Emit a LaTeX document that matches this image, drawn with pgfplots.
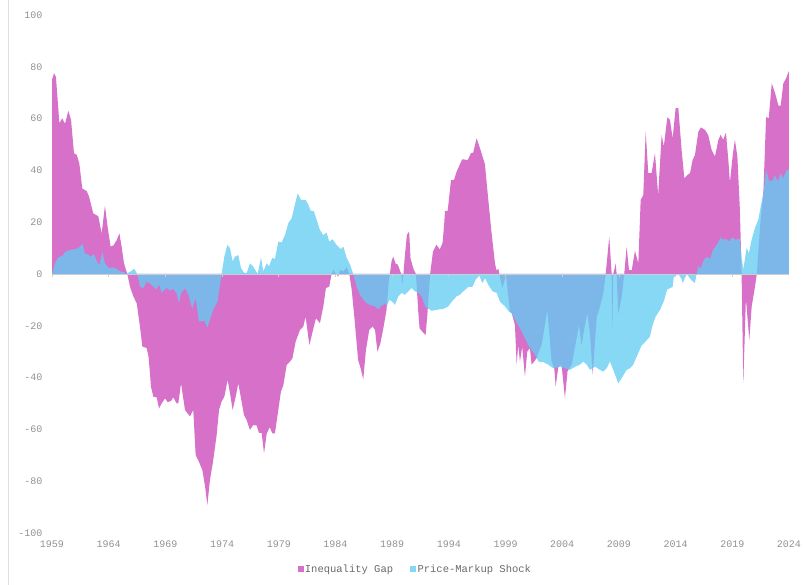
\documentclass[border=0pt]{standalone}
\usepackage{fontspec}
\setmainfont{Liberation Mono}
\usepackage{pgfplots}
\pgfplotsset{compat=1.18}
\definecolor{ineq}{RGB}{214,112,200}
\definecolor{pms}{RGB}{99,204,242}
\definecolor{tickgray}{RGB}{145,145,145}
\definecolor{leggray}{RGB}{105,105,105}
\definecolor{zerogray}{RGB}{205,205,205}
\begin{document}
\begin{tikzpicture}[x=1pt,y=1pt]
\path[use as bounding box] (0,0) rectangle (804,585);
\draw[black!12, line width=0.8pt] (8,0) -- (8,585);
\begin{axis}[
  at={(52pt,52pt)}, anchor=south west, scale only axis,
  width=737pt, height=518pt,
  xmin=1959, xmax=2024, ymin=-100, ymax=100,
  axis line style={draw=none},
  major tick length=0pt,
  xtick={1959,1964,...,2024}, ytick={-100,-80,...,100},
  /pgf/number format/assume math mode=true,
  /pgf/number format/1000 sep={},
  xticklabel style={font=\fontsize{10}{12}\selectfont, text=tickgray, yshift=-4pt},
  yticklabel style={font=\fontsize{10}{12}\selectfont, text=tickgray, xshift=-6pt},
  legend style={at={(0.4925,-0.0695)}, anchor=center, draw=none, fill=none,
    legend columns=2, font=\fontsize{10.5}{12}\selectfont, text=leggray,
    /tikz/every even column/.append style={column sep=16pt},
    nodes={inner sep=1.2pt}},
  legend image code/.code={\path[#1] (0pt,-3pt) rectangle (6pt,3pt);},
]
\addplot[fill=ineq, draw=none] coordinates {
(1959.00,0) (1959.00,75) (1959.18,77.5) (1959.35,76) (1959.65,58.2) (1959.90,60.1) (1960.15,58) (1960.44,63) (1960.68,59.5) (1960.94,46.6) (1961.18,46) (1961.41,42.7) (1961.67,33) (1962.06,32) (1962.26,30) (1962.64,23.4) (1963.08,22.3) (1963.38,15.7) (1963.67,26.4) (1963.91,18) (1964.17,10.6) (1964.41,11) (1964.70,13) (1964.94,15.7) (1965.14,10.6) (1965.35,4.1) (1965.64,0) (1965.88,-4.9) (1966.17,-8.6) (1966.47,-11.3) (1966.76,-20.3) (1966.97,-28) (1967.35,-28.6) (1967.52,-32) (1967.73,-43.5) (1967.94,-47.4) (1968.23,-47.6) (1968.44,-51.9) (1968.67,-50) (1968.97,-48) (1969.20,-49.5) (1969.50,-49) (1969.70,-47.6) (1970.00,-50) (1970.14,-50) (1970.38,-42.2) (1970.73,-52.5) (1971.17,-55) (1971.46,-52.5) (1971.67,-69.9) (1971.96,-72.5) (1972.26,-75.7) (1972.50,-82) (1972.70,-89.2) (1972.93,-79.5) (1973.20,-72.5) (1973.52,-62.2) (1973.73,-52.5) (1973.96,-49.2) (1974.20,-47.4) (1974.49,-40.9) (1974.70,-46) (1974.93,-52.5) (1975.20,-47.4) (1975.43,-42.2) (1975.67,-48) (1975.93,-54.4) (1976.17,-56.4) (1976.46,-60.2) (1976.75,-58.3) (1977.05,-58.5) (1977.25,-61.3) (1977.49,-61.3) (1977.70,-69.2) (1977.93,-61.8) (1978.20,-59.1) (1978.43,-61.5) (1978.66,-61.5) (1978.96,-52.5) (1979.19,-45.4) (1979.40,-43) (1979.70,-35.1) (1979.99,-33.8) (1980.20,-32.6) (1980.49,-26.1) (1980.87,-21.6) (1981.16,-20.3) (1981.37,-16.5) (1981.70,-27.5) (1982.00,-22) (1982.28,-17.1) (1982.63,-19) (1982.93,-12.5) (1983.16,-5.4) (1983.45,-4.9) (1983.66,0) (1983.81,1.6) (1984.05,0) (1984.25,-1) (1984.40,1.5) (1984.69,1) (1984.99,2.6) (1985.22,0) (1985.43,-6) (1985.66,-16.4) (1986.00,-33.2) (1986.22,-36.4) (1986.45,-40.7) (1986.69,-29.3) (1986.98,-21.6) (1987.28,-20.3) (1987.49,-21.6) (1987.70,-30) (1987.95,-27) (1988.22,-21) (1988.50,-14) (1988.70,-3) (1988.80,0) (1988.95,5) (1989.10,6.7) (1989.30,4) (1989.50,3.6) (1989.80,0) (1989.90,-4) (1990.00,0) (1990.10,6) (1990.30,15.1) (1990.50,16.4) (1990.62,6) (1990.90,1.7) (1991.10,0) (1991.30,-14.4) (1991.42,-21) (1991.65,-22.2) (1991.95,-23.6) (1992.10,-16) (1992.35,0) (1992.60,8.6) (1992.90,11.3) (1993.20,9.5) (1993.45,12) (1993.60,20) (1993.66,24.4) (1993.90,24.4) (1994.19,36.3) (1994.45,36.3) (1994.69,39.5) (1994.98,42.4) (1995.19,44.3) (1995.66,44) (1995.95,46.6) (1996.15,46.9) (1996.45,52.4) (1996.75,48.5) (1997.18,42.4) (1997.48,28.6) (1997.77,15.7) (1998.07,4.1) (1998.20,1.4) (1998.37,2) (1998.45,0) (1998.72,-5.4) (1999.04,-0.5) (1999.39,-14.5) (1999.54,-15) (1999.83,-19.7) (1999.98,-35) (2000.12,-27.3) (2000.27,-33.8) (2000.47,-28) (2000.71,-39.6) (2000.92,-29.9) (2001.15,-28.6) (2001.30,-35) (2001.53,-33.8) (2001.74,-32.5) (2002.18,-27.3) (2002.47,-19.7) (2002.68,-13.9) (2002.85,-22.2) (2003.06,-33.8) (2003.30,-36.4) (2003.42,-43.5) (2003.65,-36) (2003.94,-35) (2004.24,-48) (2004.47,-37.5) (2004.83,-35) (2005.27,-24.8) (2005.47,-19.7) (2005.71,-27.3) (2005.95,-21) (2006.21,-15.2) (2006.45,-23) (2006.69,-38.8) (2007.04,-16.6) (2007.33,-12.6) (2007.62,-7.5) (2007.83,0) (2008.15,14.4) (2008.36,0) (2008.42,-21.6) (2008.50,0) (2008.72,4) (2008.80,0) (2008.94,-15.2) (2009.24,-9) (2009.47,0) (2009.68,10.5) (2009.89,1.5) (2010.13,1.5) (2010.42,9) (2010.71,4) (2010.92,28.6) (2011.15,30.5) (2011.36,55) (2011.59,38.9) (2011.88,38.9) (2012.18,46.6) (2012.46,30.5) (2012.77,53.7) (2012.96,49.2) (2013.27,60.5) (2013.50,59.5) (2013.74,52.4) (2014.00,64) (2014.24,64) (2014.53,47.9) (2014.77,36.9) (2015.03,38.2) (2015.27,38.9) (2015.50,44) (2015.71,46) (2016.00,54.8) (2016.23,56.6) (2016.60,55.6) (2016.87,53.7) (2017.18,47.9) (2017.47,45.3) (2017.77,51.8) (2017.97,53.7) (2018.20,51.8) (2018.44,54.6) (2018.65,44) (2018.79,35.3) (2019.04,46) (2019.23,51.8) (2019.45,45.3) (2019.67,24.7) (2019.82,0) (2019.97,-42.2) (2020.20,-9.4) (2020.50,-25.5) (2020.71,-12.5) (2021.00,-4.9) (2021.16,0) (2021.45,18.4) (2021.75,32.4) (2021.98,60.7) (2022.21,60.1) (2022.48,73.6) (2022.77,69.9) (2023.07,65) (2023.27,65) (2023.50,73.6) (2023.74,75.5) (2024.00,78.5) (2024.00,0)
} \closedcycle;
\addlegendentry{Inequality Gap}
\addplot[fill=pms, fill opacity=0.77, draw=none] coordinates {
(1959.00,0) (1959.26,4.1) (1959.56,6.4) (1959.90,7) (1960.20,8.6) (1960.58,9.3) (1961.18,9.7) (1961.47,10.6) (1961.70,11.6) (1961.90,8) (1962.20,7.6) (1962.40,6.7) (1962.70,7.6) (1962.94,5.1) (1963.17,3.3) (1963.44,8.4) (1963.67,4.1) (1963.97,2.5) (1964.41,2.5) (1964.70,2) (1965.00,1) (1965.30,0.8) (1965.53,0) (1965.88,0.8) (1966.26,2) (1966.52,0) (1966.76,-4.9) (1967.05,-5.4) (1967.35,-3) (1967.64,-3.6) (1967.94,-4.9) (1968.23,-6) (1968.44,-4) (1968.67,-7.2) (1969.10,-5.4) (1969.40,-6.3) (1969.70,-5.8) (1970.00,-7.5) (1970.20,-11.3) (1970.38,-7.5) (1970.73,-5.5) (1971.02,-8) (1971.37,-13.3) (1971.67,-9.3) (1971.96,-18.4) (1972.43,-18) (1972.70,-20.6) (1972.93,-17.6) (1973.20,-13.9) (1973.60,-10.7) (1973.96,0) (1974.20,6.7) (1974.46,11.2) (1974.70,10) (1974.93,4.9) (1975.14,6.7) (1975.43,7.3) (1975.67,2.3) (1975.96,0.4) (1976.17,0.4) (1976.46,4.1) (1976.75,2.8) (1977.14,0) (1977.43,6.3) (1977.64,1) (1977.93,4.1) (1978.14,3) (1978.43,6.3) (1978.66,5.7) (1978.96,12.5) (1979.25,12.2) (1979.55,15) (1979.84,19.6) (1980.14,21.5) (1980.38,26) (1980.67,31.2) (1980.96,28.6) (1981.37,28.6) (1981.60,26.8) (1981.80,24.5) (1982.10,24.2) (1982.35,20.8) (1982.63,17) (1982.93,15) (1983.22,16) (1983.45,12.5) (1983.75,13.4) (1984.10,11.2) (1984.46,9.6) (1984.69,10.6) (1984.99,6.3) (1985.28,3.6) (1985.57,0) (1985.87,-4.9) (1986.16,-8) (1986.60,-10.7) (1987.04,-12) (1987.49,-12.5) (1987.77,-13.6) (1988.07,-12.3) (1988.36,-11.3) (1988.52,-12.5) (1988.75,-10) (1988.96,-10.5) (1989.25,-11.9) (1989.54,-8.6) (1989.84,-7.3) (1990.13,-8) (1990.43,-6.7) (1990.72,-5.4) (1991.02,-6.7) (1991.31,-7.3) (1991.61,-8.6) (1991.90,-12.6) (1992.49,-14.2) (1992.93,-13.8) (1993.51,-13.5) (1993.95,-12.5) (1994.25,-10.7) (1994.69,-8.6) (1994.98,-8) (1995.28,-6.7) (1995.72,-5) (1996.07,-5) (1996.36,-2.2) (1996.69,-0.6) (1996.95,-3.5) (1997.19,-1.6) (1997.48,-4.2) (1997.86,-6.7) (1998.22,-7.3) (1998.51,-10.7) (1998.95,-12.5) (1999.30,-14.5) (1999.54,-15.2) (2000.42,-22.2) (2001.00,-27.4) (2001.60,-31.2) (2001.90,-33.8) (2002.33,-34) (2002.77,-35) (2003.21,-36.4) (2003.80,-35.8) (2004.24,-36.4) (2004.69,-37) (2005.13,-35.8) (2005.57,-35) (2005.86,-33.8) (2006.16,-35) (2006.45,-37) (2006.89,-35.8) (2007.33,-37) (2007.62,-37.7) (2007.92,-36.4) (2008.21,-33.8) (2008.50,-37) (2008.94,-42.2) (2009.24,-40.2) (2009.68,-37) (2009.98,-36.4) (2010.27,-35) (2010.57,-31.9) (2011.00,-27.6) (2011.30,-26.3) (2011.74,-24.2) (2011.93,-20.3) (2012.23,-16.5) (2012.66,-13.6) (2013.00,-10) (2013.25,-6) (2013.74,-5) (2013.84,-1.2) (2014.24,0) (2014.53,-2) (2014.63,-3.5) (2014.98,0) (2015.42,-2.5) (2015.70,-3.5) (2015.86,0) (2016.00,3.2) (2016.21,2) (2016.50,5.6) (2016.80,6.6) (2017.03,5.8) (2017.30,9.3) (2017.68,11.6) (2017.97,14) (2018.20,13.3) (2018.44,13.5) (2018.73,12.6) (2018.98,14.2) (2019.23,13.3) (2019.67,13.5) (2019.82,6.3) (2019.97,1.7) (2020.26,10) (2020.47,8.1) (2020.71,13.3) (2021.00,17.8) (2021.30,21) (2021.50,26) (2021.75,31.2) (2021.98,40.2) (2022.27,35.7) (2022.57,36.3) (2022.77,38.2) (2023.00,35.7) (2023.27,38.9) (2023.50,37) (2023.80,40.2) (2024.00,40.2) (2024.00,0)
} \closedcycle;
\addlegendentry{Price-Markup Shock}
\draw[zerogray, line width=0.8pt] (axis cs:1959,0) -- (axis cs:2024,0);
\pgfplotsinvokeforeach{1959,1964,...,2024}{
  \draw[zerogray, line width=0.8pt] (axis cs:#1,0) -- ++(0pt,-3pt);
}
\end{axis}
\end{tikzpicture}
\end{document}
